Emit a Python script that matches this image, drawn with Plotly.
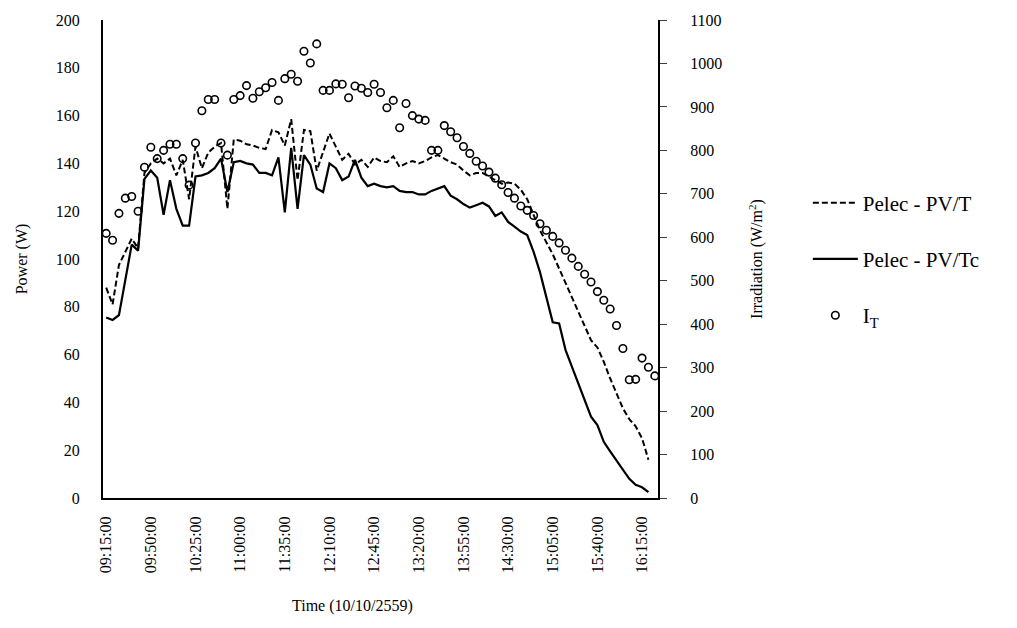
import pandas as pd
import plotly.graph_objects as go

# Time categories (5-minute samples, 10/10/2559)
times = pd.date_range("2016-10-10 09:15", "2016-10-10 16:25", freq="5min").strftime("%H:%M:%S").tolist()
tick_labels = times[::7]

# Electrical power of PV/T module (W)
pelec_pvt = [88, 81, 97.5, 103, 108.5, 104.5, 136, 140, 142, 140,
             142, 135, 141.5, 125, 147, 138, 144.5, 147, 148.5, 121,
             150, 149.5, 148, 147.5, 146.5, 146, 154, 153, 147.5, 158.5,
             133, 154, 153.5, 137, 145, 152.5, 147, 141.5, 144, 139.5,
             141.5, 138.5, 142.5, 141, 140.5, 143, 138.5, 140, 141, 140,
             141, 142.5, 143.5, 142, 140.5, 139.5, 137, 135, 136, 136,
             134.5, 133, 131.5, 132, 131.5, 129, 125, 118.5, 112, 107,
             102, 96, 90, 84, 78, 72, 66, 63, 57, 50,
             43.5, 37.5, 33, 30, 25, 16, None]

# Electrical power of PV/Tc module (W)
pelec_pvtc = [75.5, 74.5, 76.5, 91, 106, 103.5, 133.5, 137, 134, 118.5,
              133, 121, 114, 114, 134.5, 135, 136, 138, 142, 128,
              140.5, 141, 140, 139.5, 136, 136, 135, 142.5, 119.5, 146.5,
              121, 143.5, 139.5, 129.5, 128, 140, 138, 133, 134.5, 141.5,
              134, 130.5, 131.5, 130.5, 130, 130.5, 128.5, 128, 128, 127,
              127, 128.5, 129.5, 130.5, 126.5, 125, 123, 121.5, 122.5, 123.5,
              122, 118, 119.5, 115.5, 113.5, 111.5, 110, 103, 94.5, 84,
              73.5, 73, 62, 55, 48, 41, 34, 30.5, 23.5, 19.5,
              15.5, 11.5, 8, 5.5, 4.5, 2.5, None]

# Solar irradiation I_T (W/m2)
irradiation = [609, 593, 655, 690, 694, 660, 761, 807, 781, 800,
               814, 814, 781, 720, 817, 891, 917, 917, 817, 789,
               917, 926, 949, 920, 935, 944, 956, 915, 965, 975,
               959, 1028, 1001, 1045, 938, 938, 953, 952, 921, 948,
               943, 933, 952, 933, 898, 915, 852, 908, 880, 872,
               869, 800, 800, 857, 843, 829, 809, 793, 775, 764,
               750, 736, 721, 703, 690, 672, 662, 650, 631, 616,
               602, 587, 570, 552, 533, 515, 497, 475, 455, 435,
               397, 344, 272, 273, 322, 301, 281]

FONT = "Liberation Serif, Times New Roman, serif"

fig = go.Figure()
fig.add_trace(go.Scatter(
    x=times, y=pelec_pvt, name="Pelec - PV/T", mode="lines",
    line=dict(color="black", width=2, dash="6px,3px"), legendgroup="a"))
fig.add_trace(go.Scatter(
    x=times, y=pelec_pvtc, name="Pelec - PV/Tc", mode="lines",
    line=dict(color="black", width=2.2), legendgroup="b"))
fig.add_trace(go.Scatter(
    x=times, y=irradiation, name="I<sub>T</sub>", mode="markers", yaxis="y2",
    marker=dict(symbol="circle-open", size=7.5, color="black",
                line=dict(width=1.6, color="black")),
    legendgroup="c"))

fig.update_layout(
    width=1017, height=628, autosize=False,
    margin=dict(l=103, r=359, t=18, b=130, pad=0),
    paper_bgcolor="white", plot_bgcolor="white",
    font=dict(family=FONT, size=16, color="black"),
    showlegend=True,
    legend=dict(x=1.27, y=0.5, xanchor="left", yanchor="middle",
                itemwidth=45,
                font=dict(family=FONT, size=21, color="black"),
                tracegroupgap=26, bgcolor="rgba(0,0,0,0)"),
    xaxis=dict(
        type="category", categoryorder="array", categoryarray=times,
        range=[-0.5, len(times) - 0.5],
        tickmode="array", tickvals=tick_labels, ticktext=tick_labels,
        tickangle=-90, ticks="", showgrid=False, zeroline=False,
        showline=True, linecolor="black", linewidth=2,
        ticklabelstandoff=10,
        tickfont=dict(family=FONT, size=16, color="black")),
    yaxis=dict(
        range=[0, 200], dtick=20, tick0=0, ticks="", showgrid=False,
        zeroline=False, showline=True, linecolor="black", linewidth=2,
        ticklabelstandoff=18,
        tickfont=dict(family=FONT, size=16, color="black"),
        title=dict(text="Power (W)", standoff=24,
                   font=dict(family=FONT, size=16, color="black"))),
    yaxis2=dict(
        overlaying="y", side="right", anchor="x",
        range=[0, 1100], dtick=100, tick0=0,
        ticks="outside", ticklen=7, tickwidth=1, tickcolor="#404040",
        showgrid=False, zeroline=False,
        showline=True, linecolor="black", linewidth=2,
        ticklabelstandoff=20,
        tickfont=dict(family=FONT, size=16, color="black"),
        title=dict(text="Irradiation (W/m<sup>2</sup>)", standoff=30,
                   font=dict(family=FONT, size=16, color="black"))),
    annotations=[dict(
        text="Time (10/10/2559)", xref="paper", yref="paper",
        x=0.449, y=-0.225, xanchor="center", yanchor="middle",
        showarrow=False, font=dict(family=FONT, size=16, color="black"))],
)

fig.write_html("out.html")
